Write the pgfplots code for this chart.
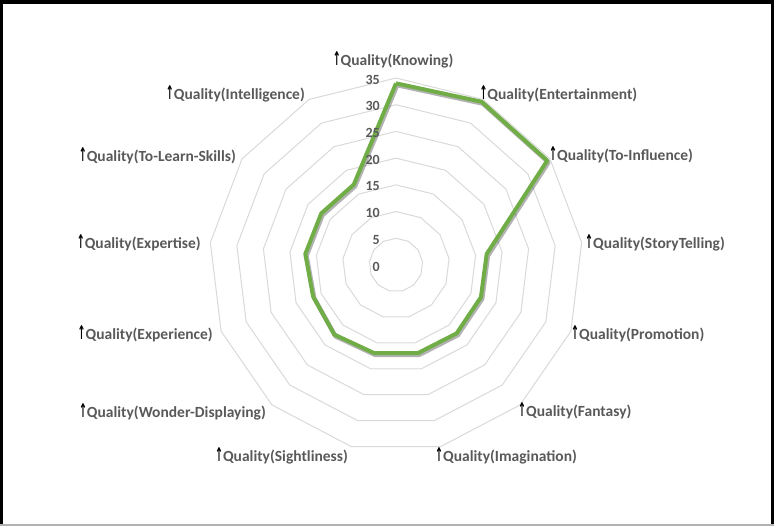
\documentclass[border=0pt]{standalone}
\usepackage{pgfplots}
\pgfplotsset{compat=1.18}
\usepackage{graphicx}
\usepackage{fontspec}
\setmainfont{Carlito}
\newfontfamily\arrowfont{DejaVu Sans}
\definecolor{radargreen}{HTML}{70AD47}
\definecolor{gridgray}{HTML}{D9D9D9}
\definecolor{labelgray}{HTML}{595959}
% category label: black arrow + grey text
\newcommand{\q}[1]{{\arrowfont\color{black}\fontsize{19}{19}\selectfont\scalebox{0.5}[1]{↑}}Quality(#1)}
\tikzset{catlab/.style={inner sep=0pt, text=labelgray, font=\bfseries\fontsize{15.5}{15.5}\selectfont}}

\begin{document}
\begin{tikzpicture}
\begin{axis}[
  x=5.343pt, y=5.343pt,
  xmin=-74.116, xmax=70.747,
  ymin=-48.849, ymax=49.598,
  hide axis, clip=false,
]
% rings, 13 spokes (angle = 90 - k*360/13)
\pgfplotsinvokeforeach{5,10,15,20,25,30,35}{
  \addplot[gridgray, line width=1pt, data cs=polar] coordinates {
    (90,#1) (62.3077,#1) (34.6154,#1) (6.9231,#1) (-20.7692,#1)
    (-48.4615,#1) (-76.1538,#1) (-103.8462,#1) (-131.5385,#1)
    (-159.2308,#1) (-186.9231,#1) (-214.6154,#1) (-242.3077,#1) (-270,#1)};
}
% shadow
\addplot[black, opacity=0.3, line width=4.5pt, line join=round, data cs=polar,
  transform canvas={xshift=1.2pt, yshift=-1.8pt}] coordinates {
  (90,34) (62.3077,34.5) (34.6154,34.4) (6.9231,17.1) (-20.7692,17.0)
  (-48.4615,17.1) (-76.1538,17.0) (-103.8462,17.0) (-131.5385,17.4)
  (-159.2308,16.6) (-186.9231,17.1) (-214.6154,17.0) (-242.3077,17.0) (-270,34)};
% series
\addplot[radargreen, line width=4pt, line join=round, data cs=polar] coordinates {
  (90,34) (62.3077,34.5) (34.6154,34.4) (6.9231,17.1) (-20.7692,17.0)
  (-48.4615,17.1) (-76.1538,17.0) (-103.8462,17.0) (-131.5385,17.4)
  (-159.2308,16.6) (-186.9231,17.1) (-214.6154,17.0) (-242.3077,17.0) (-270,34)};

% radial tick labels
\pgfplotsinvokeforeach{0,5,10,15,20,25,30,35}{
  \node[anchor=east, inner sep=0pt, text=labelgray, font=\bfseries\fontsize{14}{14}\selectfont, yshift=-1.5pt]
    at (axis cs:-2.99,#1) {#1};
}

% category labels
\node[catlab, anchor=center] at (axis cs:-0.56,38.37) {\q{Knowing}};
\node[catlab, anchor=west] at (axis cs:15.59,32.00) {\q{Entertainment}};
\node[catlab, anchor=west] at (axis cs:28.64,20.59) {\q{To-Influence}};
\node[catlab, anchor=west] at (axis cs:35.37,4.12) {\q{StoryTelling}};
\node[catlab, anchor=west] at (axis cs:32.75,-12.91) {\q{Promotion}};
\node[catlab, anchor=west] at (axis cs:22.83,-27.33) {\q{Fantasy}};
\node[catlab, anchor=west] at (axis cs:7.30,-35.75) {\q{Imagination}};
\node[catlab, anchor=east] at (axis cs:-8.98,-35.75) {\q{Sightliness}};
\node[catlab, anchor=east] at (axis cs:-24.33,-27.51) {\q{Wonder-Displaying}};
\node[catlab, anchor=east] at (axis cs:-34.25,-12.91) {\q{Experience}};
\node[catlab, anchor=east] at (axis cs:-36.50,4.12) {\q{Expertise}};
\node[catlab, anchor=east] at (axis cs:-29.95,20.40) {\q{To-Learn-Skills}};
\node[catlab, anchor=east] at (axis cs:-17.03,32.00) {\q{Intelligence}};
\end{axis}
% screenshot frame
\fill[black] (current axis.north west) rectangle ([yshift=-4pt]current axis.north east);
\fill[black] (current axis.north west) rectangle ([xshift=3pt]current axis.south west);
\fill[black] (current axis.north east) rectangle ([xshift=-3pt]current axis.south east);
\fill[gray!60] (current axis.south west) rectangle ([yshift=2pt]current axis.south east);
\end{tikzpicture}
\end{document}
